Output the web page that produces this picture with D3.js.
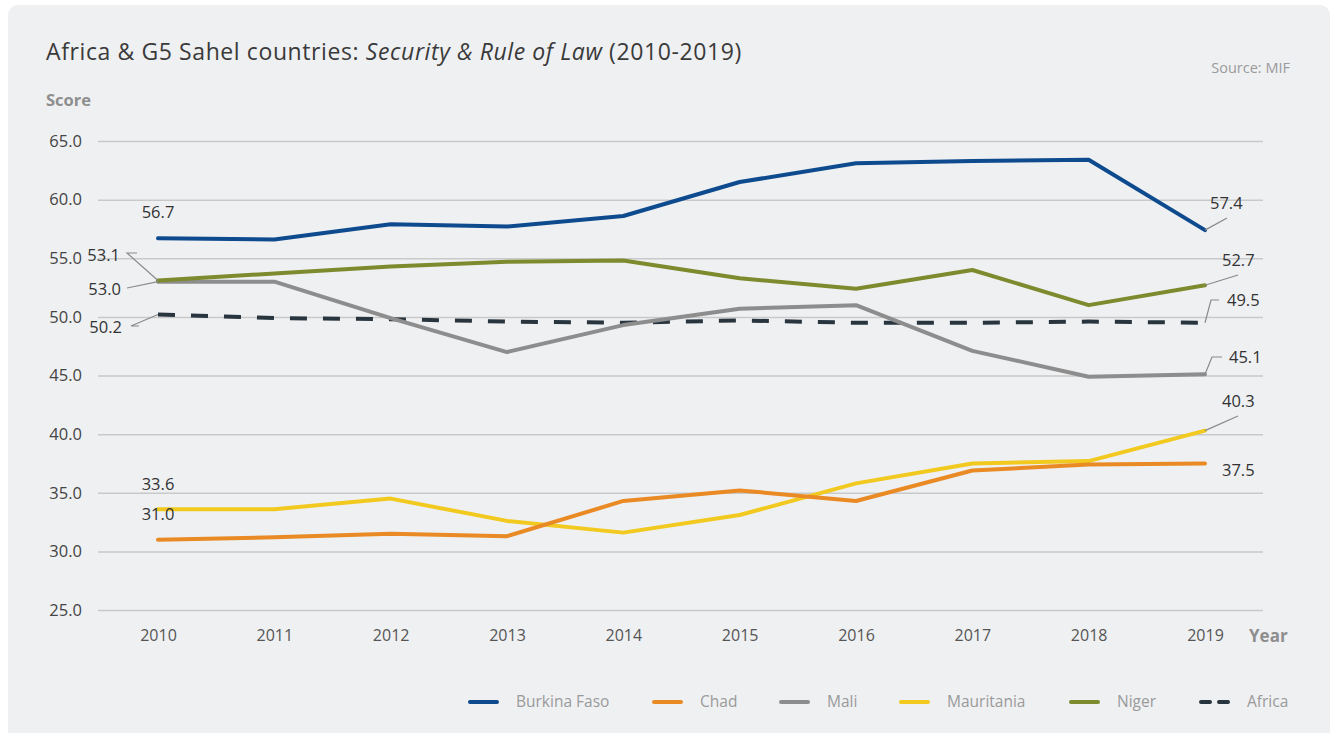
<!DOCTYPE html>
<html>
<head>
<meta charset="utf-8">
<script src="https://cdn.jsdelivr.net/npm/d3@7"></script>
<style>
  html, body { margin: 0; padding: 0; background: #ffffff; }
  svg { display: block; font-family: "Open Sans", "DejaVu Sans", sans-serif; }
</style>
</head>
<body>
<svg width="1337" height="733"></svg>
<script>
// data
var years = [2010, 2011, 2012, 2013, 2014, 2015, 2016, 2017, 2018, 2019];
var burkinaFaso = [56.7, 56.6, 57.9, 57.7, 58.6, 61.5, 63.1, 63.3, 63.4, 57.4];
var chad        = [31.0, 31.2, 31.5, 31.3, 34.3, 35.2, 34.3, 36.9, 37.4, 37.5];
var mali        = [53.0, 53.0, 49.9, 47.0, 49.3, 50.7, 51.0, 47.1, 44.9, 45.1];
var mauritania  = [33.6, 33.6, 34.5, 32.6, 31.6, 33.1, 35.8, 37.5, 37.7, 40.3];
var niger       = [53.1, 53.7, 54.3, 54.7, 54.8, 53.3, 52.4, 54.0, 51.0, 52.7];
var africa      = [50.2, 49.9, 49.8, 49.6, 49.5, 49.7, 49.5, 49.5, 49.6, 49.5];
var yTicks = [25, 30, 35, 40, 45, 50, 55, 60, 65];

var series = [
  {name: "Burkina Faso", values: burkinaFaso, color: "#0e4a8e"},
  {name: "Chad", values: chad, color: "#e98a25"},
  {name: "Mali", values: mali, color: "#8d8d8d"},
  {name: "Mauritania", values: mauritania, color: "#f1c91f"},
  {name: "Niger", values: niger, color: "#7e8a2e"},
  {name: "Africa", values: africa, color: "#28343e", dashed: true}
];

var svg = d3.select("svg");

// grijze achtergrond
svg.append("rect")
    .attr("x", 8).attr("y", 5)
    .attr("width", 1322).attr("height", 740)
    .attr("rx", 10)
    .attr("fill", "#eff0f2");

var x = d3.scalePoint().domain(years).range([158, 1205]);
var y = d3.scaleLinear().domain([25, 65]).range([610, 141]);

// titel
var title = svg.append("text")
    .attr("x", 46).attr("y", 60)
    .attr("font-size", 23)
    .attr("letter-spacing", 0.6)
    .attr("fill", "#3a3a3a");
title.append("tspan").text("Africa & G5 Sahel countries: ");
title.append("tspan").attr("font-style", "italic").text("Security & Rule of Law");
title.append("tspan").text(" (2010-2019)");

svg.append("text")
    .attr("x", 1290).attr("y", 73)
    .attr("text-anchor", "end")
    .attr("font-size", 14.5)
    .attr("fill", "#9a9a9a")
    .text("Source: MIF");

svg.append("text")
    .attr("x", 46).attr("y", 106)
    .attr("font-size", 16.5)
    .attr("font-weight", "bold")
    .attr("fill", "#8e8e8e")
    .text("Score");

// gridlijnen en y-as
var yAxis = svg.append("g")
    .attr("transform", "translate(98,0)")
    .call(d3.axisLeft(y).tickValues(yTicks).tickSize(-1165).tickFormat(d3.format(".1f")).tickPadding(16));
yAxis.select(".domain").remove();
yAxis.selectAll("line").attr("stroke", "#c9c9c9").attr("stroke-width", 1.5);
yAxis.selectAll("text")
    .attr("font-size", 16.5)
    .attr("fill", "#444")
    .attr("font-family", "Open Sans, sans-serif");

// x-as
var xAxis = svg.append("g")
    .attr("transform", "translate(0,624)")
    .call(d3.axisBottom(x).tickSize(0).tickPadding(6));
xAxis.select(".domain").remove();
xAxis.selectAll("text")
    .attr("font-size", 16)
    .attr("fill", "#555")
    .attr("font-family", "Open Sans, sans-serif");

svg.append("text")
    .attr("x", 1249).attr("y", 642)
    .attr("font-size", 17)
    .attr("font-weight", "bold")
    .attr("fill", "#8e8e8e")
    .text("Year");

// lijnen
var line = d3.line()
    .x(function(d, i) { return x(years[i]); })
    .y(function(d) { return y(d); });

var drawOrder = [5, 0, 2, 4, 3, 1];
drawOrder.forEach(function(k) {
  var s = series[k];
  svg.append("path")
      .datum(s.values)
      .attr("d", line)
      .attr("fill", "none")
      .attr("stroke", s.color)
      .attr("stroke-width", 4)
      .attr("stroke-linejoin", "round")
      .attr("stroke-linecap", s.dashed ? "butt" : "round")
      .attr("stroke-dasharray", s.dashed ? "17,16" : null);
});

// labels met wijzerlijntjes
var first = 0, last = years.length - 1;
var labels = [
  {v: burkinaFaso[first], i: first, lx: 158, ly: 212, anchor: "middle"},
  {v: niger[first], i: first, lx: 120, ly: 255, anchor: "end", lead: [[127, 253], [137, 253]]},
  {v: mali[first], i: first, lx: 121, ly: 289, anchor: "end", lead: [[127, 288]]},
  {v: africa[first], i: first, lx: 122, ly: 327, anchor: "end", lead: [[131, 326], [139, 326]]},
  {v: mauritania[first], i: first, lx: 158, ly: 484, anchor: "middle"},
  {v: chad[first], i: first, lx: 158, ly: 514, anchor: "middle"},
  {v: burkinaFaso[last], i: last, lx: 1210, ly: 203, anchor: "start", lead: [[1227, 218]]},
  {v: niger[last], i: last, lx: 1222, ly: 260, anchor: "start", lead: [[1238, 275]]},
  {v: africa[last], i: last, lx: 1227, ly: 300, anchor: "start", lead: [[1211, 300], [1219, 300]]},
  {v: mali[last], i: last, lx: 1229, ly: 357, anchor: "start", lead: [[1212, 357], [1222, 357]]},
  {v: mauritania[last], i: last, lx: 1222, ly: 401, anchor: "start", lead: [[1238, 416]]},
  {v: chad[last], i: last, lx: 1222, ly: 470, anchor: "start"}
];

labels.forEach(function(l) {
  if (l.lead) {
    var pts = [[x(years[l.i]), y(l.v)]].concat(l.lead);
    svg.append("path")
        .attr("d", d3.line()(pts))
        .attr("fill", "none")
        .attr("stroke", "#8a8a8a")
        .attr("stroke-width", 1.2);
  }
  svg.append("text")
      .attr("x", l.lx).attr("y", l.ly)
      .attr("dy", "0.35em")
      .attr("text-anchor", l.anchor)
      .attr("font-size", 16.5)
      .attr("fill", "#333")
      .text(d3.format(".1f")(l.v));
});

// legenda
var legendX = [468, 652, 779, 899, 1069, 1199];
var legend = svg.append("g");
series.forEach(function(s, i) {
  legend.append("line")
      .attr("x1", legendX[i] + 2).attr("x2", legendX[i] + 29)
      .attr("y1", 702).attr("y2", 702)
      .attr("stroke", s.color)
      .attr("stroke-width", 4)
      .attr("stroke-linecap", "round")
      .attr("stroke-dasharray", s.dashed ? "9,9" : null);
  legend.append("text")
      .attr("x", legendX[i] + 48).attr("y", 702)
      .attr("dy", "0.35em")
      .attr("font-size", 15.5)
      .attr("fill", "#9a9a9a")
      .text(s.name);
});
</script>
</body>
</html>
